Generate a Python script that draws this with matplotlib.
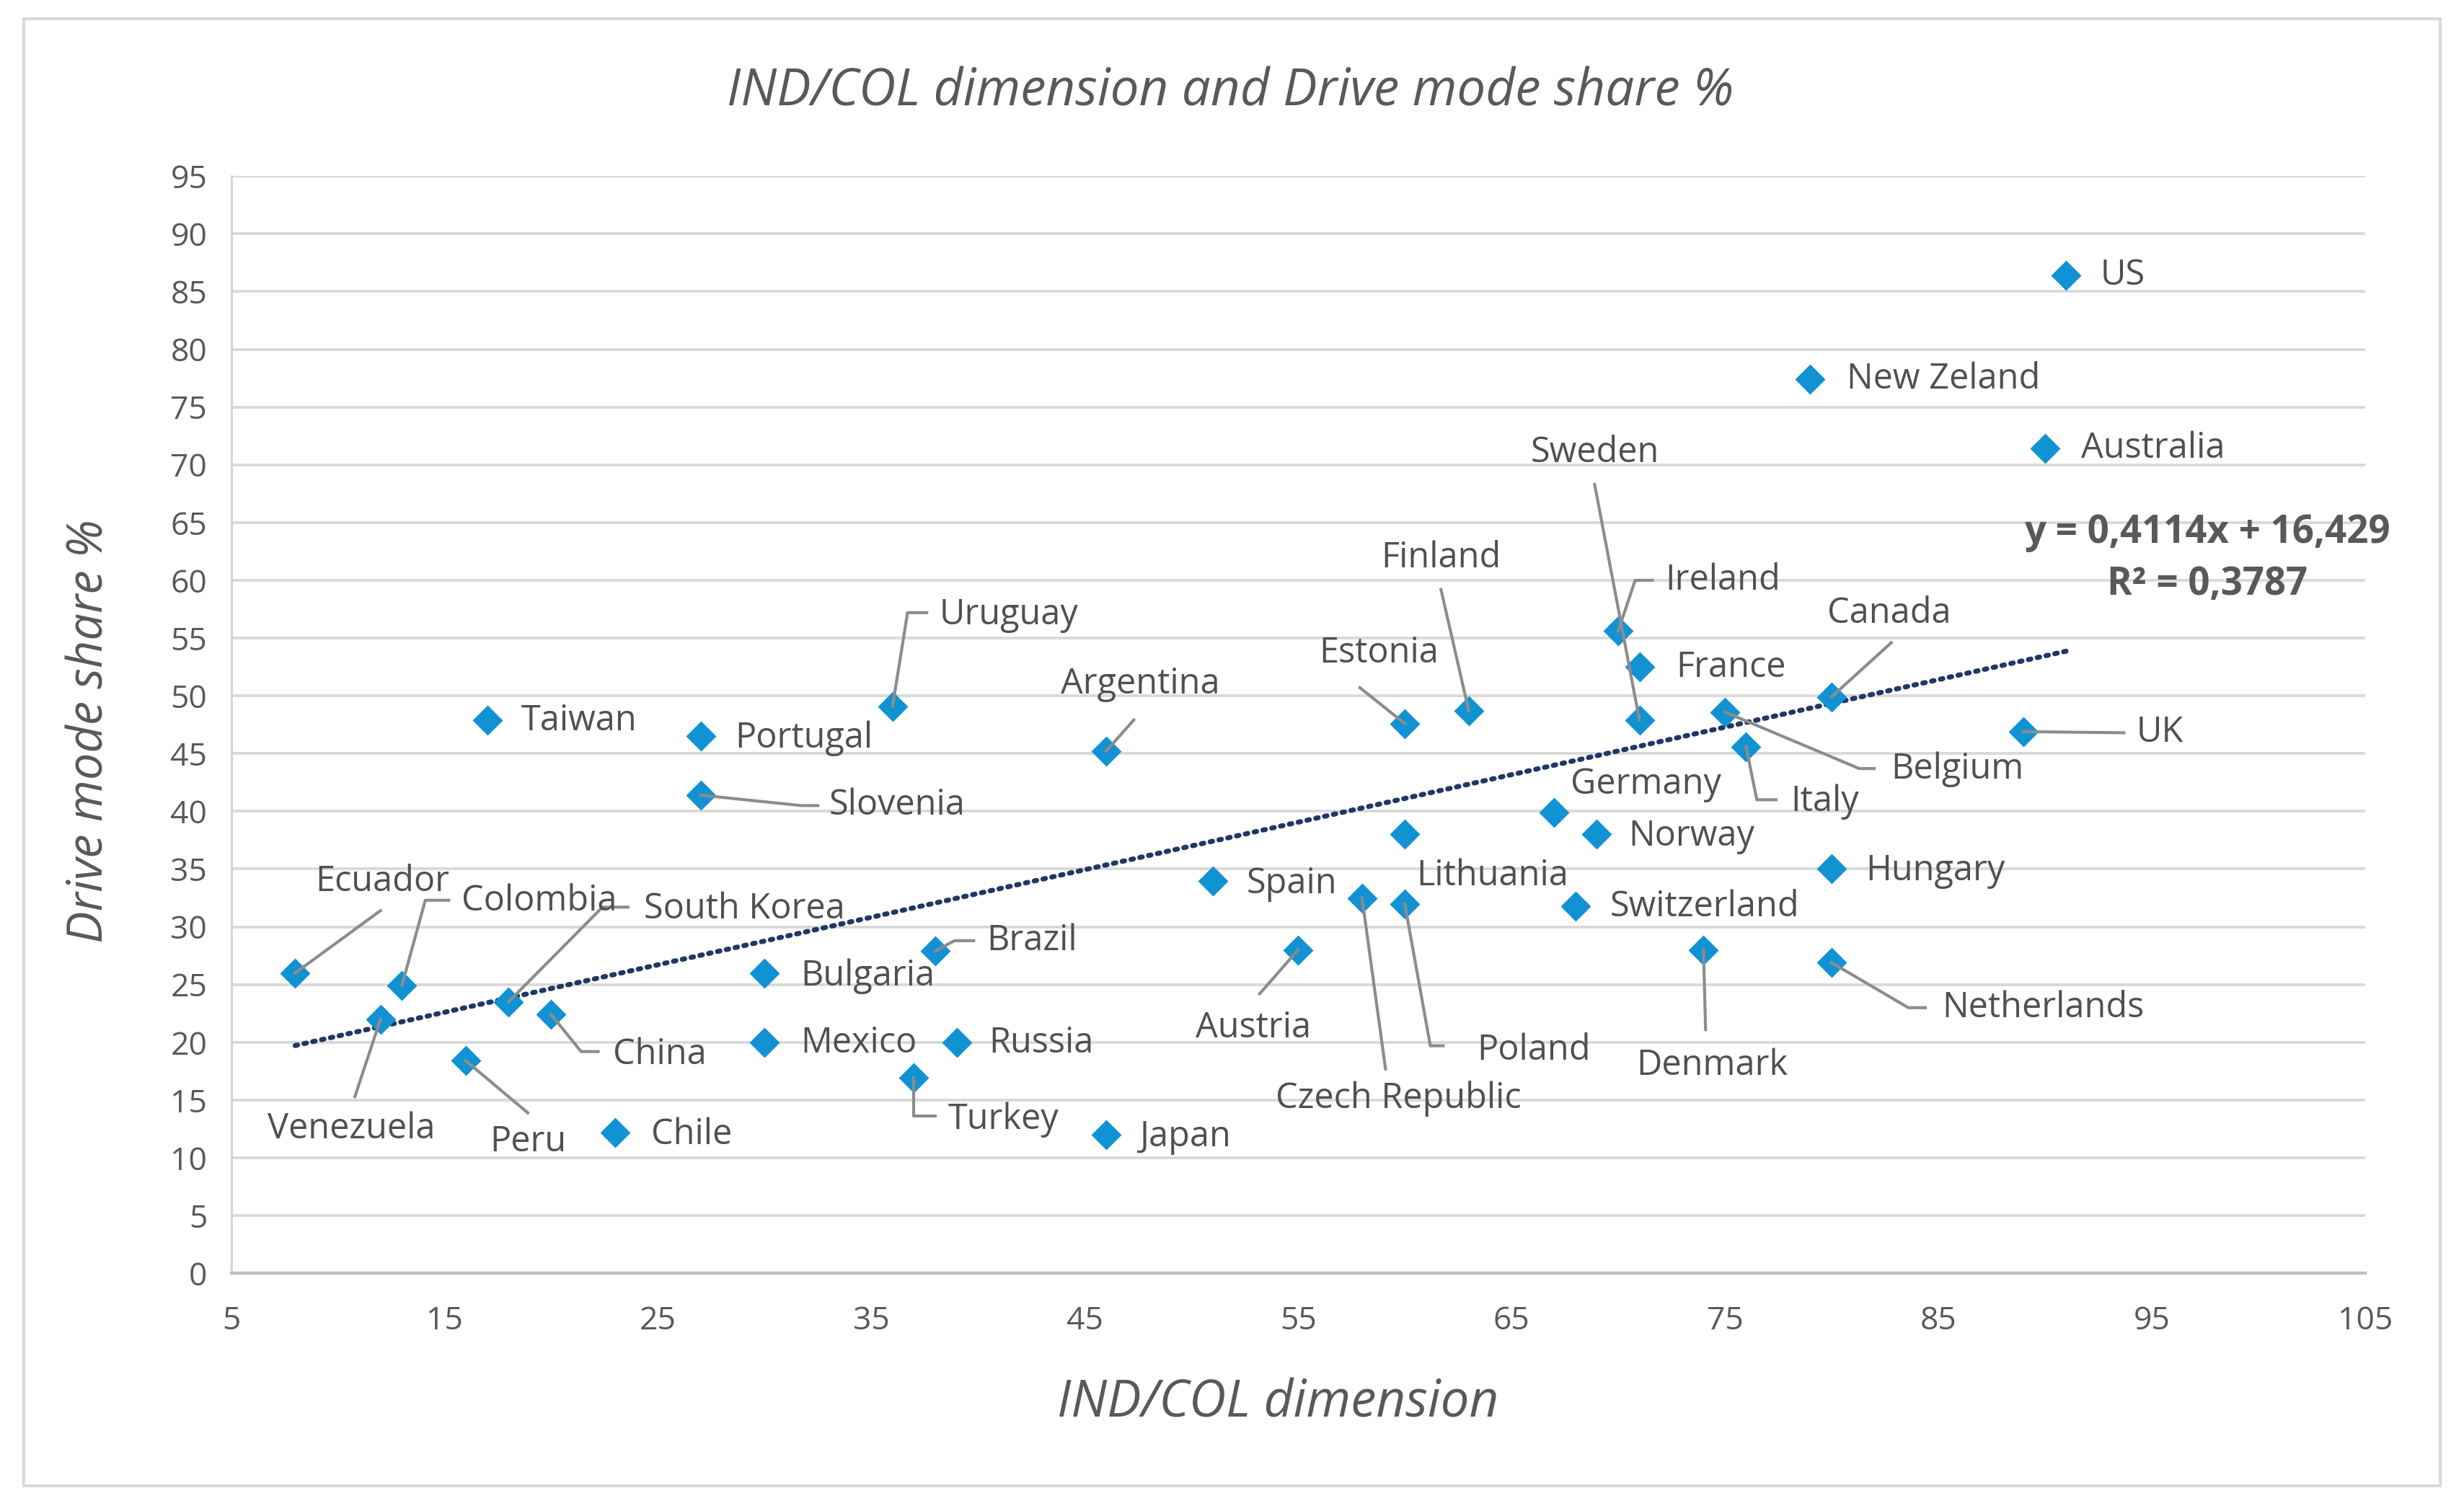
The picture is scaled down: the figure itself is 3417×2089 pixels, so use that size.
import numpy as np
import matplotlib.pyplot as plt
from matplotlib.patches import Rectangle

# data
countries = ["US", "New Zeland", "Australia", "Sweden", "Finland", "Ireland", "France",
             "Estonia", "Lithuania", "Canada", "UK", "Belgium", "Italy", "Germany", "Norway",
             "Hungary", "Switzerland", "Spain", "Czech Republic", "Poland", "Austria",
             "Denmark", "Netherlands", "Japan", "Turkey", "Russia", "Mexico", "Bulgaria",
             "Brazil", "Argentina", "Uruguay", "Slovenia", "Portugal", "Taiwan", "Ecuador",
             "Colombia", "South Korea", "China", "Venezuela", "Peru", "Chile"]
ind_col = [91, 79, 90, 71, 63, 70, 71,
           60, 60, 80, 89, 75, 76, 67, 69,
           80, 68, 51, 58, 60, 55,
           74, 80, 46, 37, 39, 30, 30,
           38, 46, 36, 27, 27, 17, 8,
           13, 18, 20, 12, 16, 23]
drive_share = [86.4, 77.4, 71.4, 47.9, 48.7, 55.6, 52.5,
               47.6, 38.0, 49.9, 46.9, 48.6, 45.6, 39.9, 38.0,
               35.0, 31.8, 34.0, 32.5, 32.0, 28.0,
               28.0, 26.9, 12.0, 16.9, 20.0, 20.0, 26.0,
               27.9, 45.2, 49.1, 41.4, 46.5, 47.9, 26.0,
               24.9, 23.5, 22.4, 22.0, 18.4, 12.2]

# linear trendline shown on the chart
trend_slope = 0.4114
trend_intercept = 16.429
r_squared = 0.3787

# label placement: (x, y, ha) and leader line waypoints (from label towards point)
label_pos = {
    "US": (92.6, 86.4, "left"), "New Zeland": (80.7, 77.4, "left"),
    "Australia": (91.7, 71.4, "left"), "Sweden": (68.9, 71.0, "center"),
    "Finland": (61.7, 61.9, "center"), "Ireland": (72.2, 60.0, "left"),
    "France": (72.7, 52.4, "left"), "Estonia": (58.8, 53.7, "center"),
    "Lithuania": (64.1, 34.4, "center"), "Canada": (82.7, 57.1, "center"),
    "UK": (94.3, 46.8, "left"), "Belgium": (82.8, 43.6, "left"),
    "Italy": (78.1, 40.8, "left"), "Germany": (71.3, 42.3, "center"),
    "Norway": (70.5, 37.8, "left"), "Hungary": (81.6, 34.8, "left"),
    "Switzerland": (69.6, 31.7, "left"), "Spain": (52.6, 33.7, "left"),
    "Czech Republic": (59.7, 15.1, "center"), "Poland": (63.4, 19.3, "left"),
    "Austria": (52.9, 21.2, "center"), "Denmark": (74.4, 18.0, "center"),
    "Netherlands": (85.2, 23.0, "left"), "Japan": (47.6, 11.8, "left"),
    "Turkey": (38.6, 13.3, "left"), "Russia": (40.5, 19.9, "left"),
    "Mexico": (31.7, 19.9, "left"), "Bulgaria": (31.7, 25.7, "left"),
    "Brazil": (40.4, 28.8, "left"), "Argentina": (47.6, 51.0, "center"),
    "Uruguay": (38.2, 57.0, "left"), "Slovenia": (33.0, 40.5, "left"),
    "Portugal": (28.6, 46.3, "left"), "Taiwan": (18.6, 47.8, "left"),
    "Ecuador": (12.1, 33.9, "center"), "Colombia": (15.8, 32.2, "left"),
    "South Korea": (24.35, 31.5, "left"), "China": (22.9, 18.9, "left"),
    "Venezuela": (10.65, 12.5, "center"), "Peru": (18.9, 11.35, "center"),
    "Chile": (24.7, 12.0, "left"),
}
leaders = {
    "Sweden": [(68.9, 68.3)], "Finland": [(61.7, 59.2)],
    "Ireland": [(71.6, 60.0), (70.8, 60.0)], "Estonia": [(57.9, 50.7)],
    "Canada": [(82.8, 54.6)], "UK": [(93.7, 46.8)],
    "Belgium": [(82.0, 43.7), (81.3, 43.7)], "Italy": [(77.4, 41.0), (76.5, 41.0)],
    "Czech Republic": [(59.1, 17.7)], "Poland": [(61.8, 19.7), (61.2, 19.7)],
    "Austria": [(53.2, 24.2)], "Denmark": [(74.1, 21.1)],
    "Netherlands": [(84.4, 23.0), (83.6, 23.0)], "Turkey": [(38.0, 13.6), (37.0, 13.6)],
    "Brazil": [(39.8, 28.8), (38.9, 28.8)], "Argentina": [(47.3, 47.9)],
    "Uruguay": [(37.6, 57.2), (36.7, 57.2)], "Slovenia": [(32.5, 40.5), (31.7, 40.5)],
    "Ecuador": [(12.0, 31.4)], "Colombia": [(15.2, 32.3), (14.1, 32.3)],
    "South Korea": [(23.6, 31.7), (22.4, 31.7)], "China": [(22.2, 19.2), (21.4, 19.2)],
    "Venezuela": [(10.8, 15.3)], "Peru": [(18.9, 13.9)],
}

plt.rcParams["font.family"] = ["Open Sans", "DejaVu Sans"]
fig = plt.figure(figsize=(17.085, 10.445), dpi=200)
ax = fig.add_axes([0.0938, 0.1545, 0.866, 0.7286])

# chart frame
fig.patches.append(Rectangle((0.0096, 0.0136), 0.9808, 0.9739, transform=fig.transFigure,
                             fill=False, edgecolor="#D9D9D9", linewidth=1.5))

ax.set_xlim(5, 105)
ax.set_ylim(0, 95)
ax.set_xticks(np.arange(5, 106, 10))
ax.set_yticks(np.arange(0, 96, 5))
ax.grid(axis="y", color="#D9D9D9", linewidth=1.4)
ax.set_axisbelow(True)
for s in ["top", "right"]:
    ax.spines[s].set_visible(False)
ax.spines["bottom"].set_color("#BFBFBF")
ax.spines["bottom"].set_linewidth(1.6)
ax.spines["left"].set_color("#D0D0D0")
ax.spines["left"].set_linewidth(1.0)
ax.tick_params(length=0, labelsize=16, labelcolor="#595959")
ax.tick_params(axis="x", pad=16)
ax.tick_params(axis="y", pad=12)

ax.plot(ind_col, drive_share, linestyle="none", marker="D", markersize=9.5,
        color="#1192D3", zorder=3)

# trendline
tx = np.array([min(ind_col), max(ind_col)])
ax.plot(tx, trend_slope * tx + trend_intercept, linestyle=(0, (0.5, 1.3)),
        dash_capstyle="round", color="#1F3864", linewidth=2.5, zorder=2)

for name, xv, yv in zip(countries, ind_col, drive_share):
    lx, ly, ha = label_pos[name]
    ax.text(lx, ly, name, ha=ha, va="center", fontsize=17.5, color="#505050", zorder=5)
    if name in leaders:
        pts = leaders[name] + [(xv, yv)]
        ax.plot([p[0] for p in pts], [p[1] for p in pts], color="#8C8C8C",
                linewidth=1.5, zorder=4)

ax.text(97.6, 64.1, "y = {}x + {}".format(str(trend_slope).replace(".", ","),
                                          str(trend_intercept).replace(".", ",")),
        ha="center", va="center", fontsize=19, fontweight="bold", color="#595959")
ax.text(97.6, 59.6, "R² = {}".format(str(r_squared).replace(".", ",")),
        ha="center", va="center", fontsize=19, fontweight="bold", color="#595959")

fig.text(0.4994, 0.939, "IND/COL dimension and Drive mode share %", ha="center",
         va="center", fontsize=25.5, style="italic", color="#595959")
fig.text(0.5185, 0.068, "IND/COL dimension", ha="center", va="center", fontsize=25.5,
         style="italic", color="#595959")
fig.text(0.0364, 0.5146, "Drive mode share %", ha="center", va="center", fontsize=24,
         style="italic", color="#595959", rotation=90)

fig.savefig("out.png", dpi=200, facecolor="white")
